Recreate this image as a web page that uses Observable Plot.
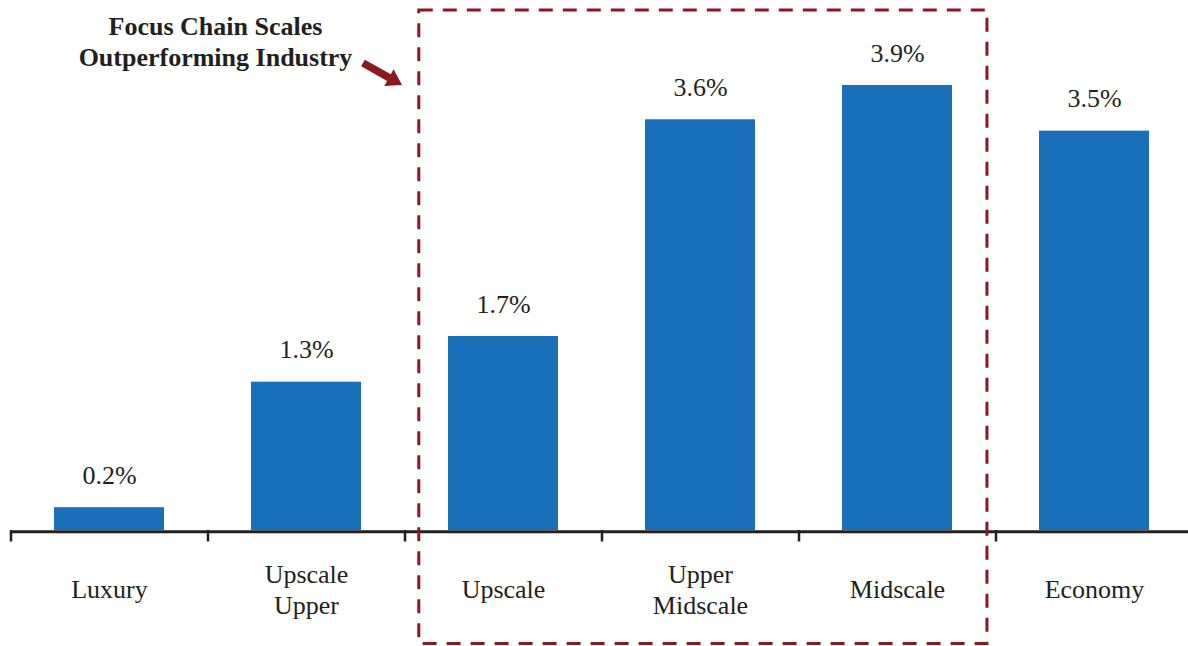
<!DOCTYPE html>
<html><head><meta charset="utf-8">
<script src="https://cdn.jsdelivr.net/npm/d3@7"></script>
<script src="https://cdn.jsdelivr.net/npm/@observablehq/plot@0.6"></script>
<style>html,body{margin:0;padding:0;background:#fff}#chart svg{display:block}</style>
</head><body><div id="chart"></div>
<script>
const categories = ["Luxury", "Upscale Upper", "Upscale", "Upper Midscale", "Midscale", "Economy"];
const categoryLabels = ["Luxury", "Upscale\nUpper", "Upscale", "Upper\nMidscale", "Midscale", "Economy"];
const growth = [0.2, 1.3, 1.7, 3.6, 3.9, 3.5];
const valueLabels = ["0.2%", "1.3%", "1.7%", "3.6%", "3.9%", "3.5%"];
const focusScales = ["Upscale", "Upper Midscale", "Midscale"];
const calloutLines = ["Focus Chain Scales", "Outperforming Industry"];

const data = categories.map((c, i) => ({category: c, label: categoryLabels[i], value: growth[i], text: valueLabels[i]}));

const W = 1188, H = 646;
const xRange = [11, 1193];
const step = (xRange[1] - xRange[0]) / categories.length;
const barColor = "#1a70b8";
const red = "#8b1a1f";
const ink = "#231f20";
const font = "'Liberation Serif','Times New Roman',serif";

// annotation: dashed box around focus scales + arrow
function focusAnnotation(index, scales, values, dims) {
  const i0 = categories.indexOf(focusScales[0]);
  const i1 = categories.indexOf(focusScales[focusScales.length - 1]);
  const left = xRange[0] + i0 * step + 0.07 * step;
  const right = xRange[0] + (i1 + 1) * step - 0.046 * step;
  const top = 10, bottom = (dims ? dims.height : H) - 2.5;
  const g = d3.create("svg:g");
  g.append("rect")
    .attr("x", left).attr("y", top)
    .attr("width", right - left).attr("height", bottom - top)
    .attr("fill", "none").attr("stroke", red).attr("stroke-width", 3)
    .attr("stroke-dasharray", "14,10");
  // arrow
  const tail = [363, 63], tip = [402, 85];
  const dx = tip[0] - tail[0], dy = tip[1] - tail[1], len = Math.hypot(dx, dy);
  const ux = dx / len, uy = dy / len, px = -uy, py = ux;
  const headLen = 15, shaftW = 3.8, headW = 9.5;
  const bx = tip[0] - ux * headLen, by = tip[1] - uy * headLen;
  const pts = [
    [tail[0] + px * shaftW, tail[1] + py * shaftW],
    [bx + px * shaftW, by + py * shaftW],
    [bx + px * headW, by + py * headW],
    tip,
    [bx - px * headW, by - py * headW],
    [bx - px * shaftW, by - py * shaftW],
    [tail[0] - px * shaftW, tail[1] - py * shaftW]
  ];
  g.append("path").attr("d", "M" + pts.map(p => p.join(",")).join("L") + "Z").attr("fill", red);
  return g.node();
}

const chart = Plot.plot({
  width: W,
  height: H,
  marginTop: 73.6,
  marginBottom: 116,
  marginLeft: 11,
  marginRight: 0,
  style: {fontFamily: font, background: "#fff"},
  x: {type: "band", domain: categories, range: xRange, paddingInner: 0.44, paddingOuter: 0.22, axis: null},
  y: {domain: [0, 4], axis: null},
  marks: [
    Plot.barY(data, {x: "category", y: "value", fill: barColor}),
    Plot.ruleY([0], {stroke: ink, strokeWidth: 3, dy: 1.2}),
    Plot.ruleX(data, {x: "category", y1: 0, y2: 0, dx: -step / 2, insetBottom: -11.5, stroke: ink, strokeWidth: 2.5}),
    Plot.text(data, {x: "category", y: "value", text: "text", dy: -24, lineAnchor: "bottom", fontSize: 26, fill: ink, fontFamily: font}),
    Plot.text(data, {x: "category", text: "label", frameAnchor: "bottom", dy: 58, lineAnchor: "middle", lineHeight: 1.2, fontSize: 26, fill: ink, fontFamily: font}),
    Plot.text([calloutLines.join("\n")], {frameAnchor: "top-left", dx: 204, dy: -61.5, lineAnchor: "top", lineHeight: 1.2, textAnchor: "middle", fontSize: 26, fontWeight: "bold", fill: ink, fontFamily: font}),
    focusAnnotation
  ]
});
document.getElementById("chart").appendChild(chart);
</script>
</body></html>
